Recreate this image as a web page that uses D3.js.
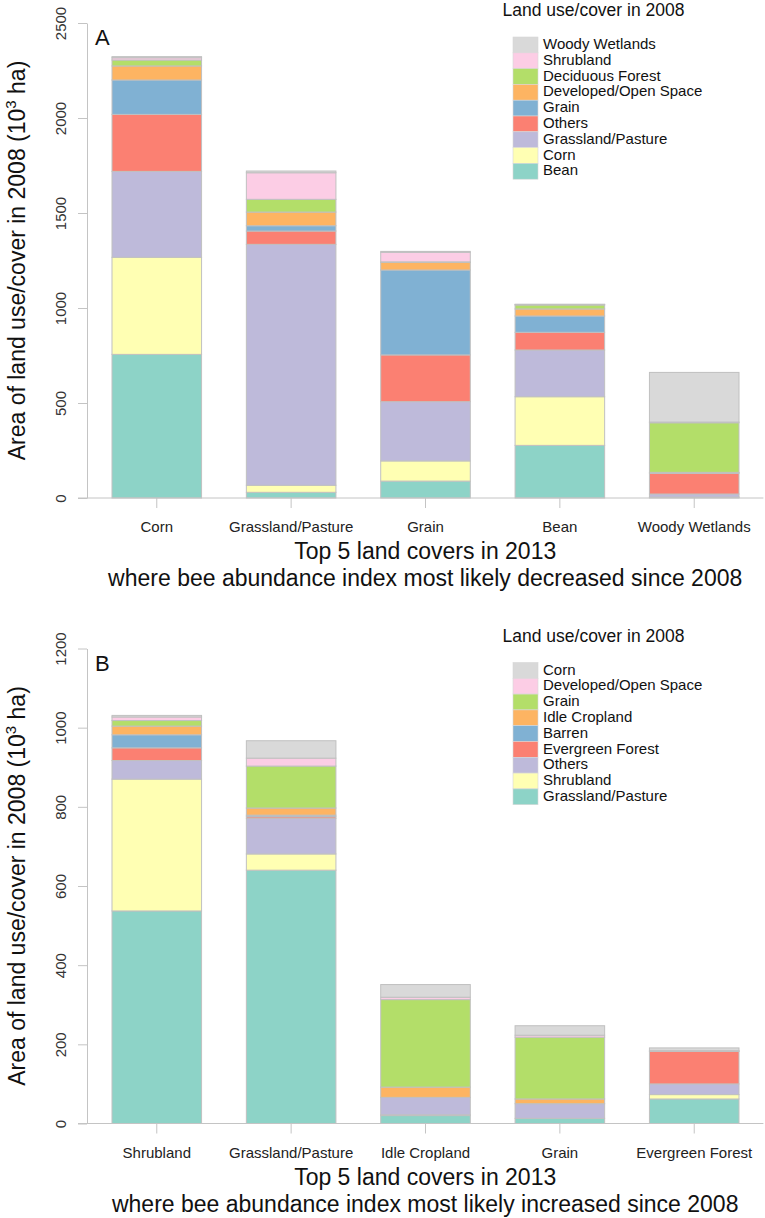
<!DOCTYPE html>
<html>
<head>
<meta charset="utf-8">
<script src="https://cdn.jsdelivr.net/npm/d3@7"></script>
<style>
  html, body { margin: 0; padding: 0; background: #fff; }
  svg { display: block; font-family: "Liberation Sans", Arial, Helvetica, sans-serif; }
</style>
</head>
<body>
<svg id="chart" width="765" height="1218"></svg>
<script>
// ---------- Panel A data ----------
const categoriesA = ["Corn", "Grassland/Pasture", "Grain", "Bean", "Woody Wetlands"];
const seriesA = ["Bean", "Corn", "Grassland/Pasture", "Others", "Grain",
                 "Developed/Open Space", "Deciduous Forest", "Shrubland", "Woody Wetlands"];
const beanA       = [756,   30,  89, 277,   3];
const cornA       = [511,   37, 106, 256,   2];
const grasslandA  = [452, 1268, 312, 246,  16];
const othersA     = [300,   70, 246,  93, 109];
const grainA      = [181,   28, 447,  86,   2];
const developedA  = [ 74,   72,  40,  37,   3];
const deciduousA  = [ 31,   67,   3,  21, 261];
const shrublandA  = [ 12,  140,  50,   2,   4];
const woodyA      = [  6,    9,   5,   2, 261];
const ticksA = [0, 500, 1000, 1500, 2000, 2500];

// ---------- Panel B data ----------
const categoriesB = ["Shrubland", "Grassland/Pasture", "Idle Cropland", "Grain", "Evergreen Forest"];
const seriesB = ["Grassland/Pasture", "Shrubland", "Others", "Evergreen Forest", "Barren",
                 "Idle Cropland", "Grain", "Developed/Open Space", "Corn"];
const grasslandB  = [537, 640,  20,  13, 62];
const shrublandB  = [333,  41,   2,   0, 11];
const othersB     = [ 47,  90,  44,  37, 27];
const evergreenB  = [ 32,   4,   0,   0, 82];
const barrenB     = [ 33,   4,   0,   0,  0];
const idleB       = [ 22,  18,  26,  12,  0];
const grainB      = [ 14, 106, 221, 156,  1];
const developedB  = [  9,  20,   6,   5,  1];
const cornB       = [  4,  44,  32,  24,  7];
const ticksB = [0, 200, 400, 600, 800, 1000, 1200];

const palette = ["#8DD3C7", "#FFFFB3", "#BEBADA", "#FB8072", "#80B1D3",
                 "#FDB462", "#B3DE69", "#FCCDE5", "#D9D9D9"];

const panels = [
  { label: "A", cats: categoriesA, series: seriesA,
    values: [beanA, cornA, grasslandA, othersA, grainA, developedA, deciduousA, shrublandA, woodyA],
    max: 2500, ticks: ticksA, offset: 0,
    sub: "where bee abundance index most likely decreased since 2008" },
  { label: "B", cats: categoriesB, series: seriesB,
    values: [grasslandB, shrublandB, othersB, evergreenB, barrenB, idleB, grainB, developedB, cornB],
    max: 1200, ticks: ticksB, offset: 625.5,
    sub: "where bee abundance index most likely increased since 2008" }
];

const svg = d3.select("#chart");
const axisColor = "#c4c4c4";
const borderColor = "#c0c0c0";

panels.forEach(p => {
  const g = svg.append("g").attr("transform", `translate(0,${p.offset})`);
  const yTop = 23, yBot = 498, xAxis = 87;

  const x = d3.scaleBand().domain(p.cats).range([89.6, 761.4])
    .paddingInner(1/3).paddingOuter(1/6);
  const y = d3.scaleLinear().domain([0, p.max]).range([yBot, yTop]);
  const color = d3.scaleOrdinal().domain(p.series).range(palette);

  const rows = p.cats.map((c, i) => {
    const r = { cat: c };
    p.series.forEach((s, j) => r[s] = p.values[j][i]);
    return r;
  });
  const stacked = d3.stack().keys(p.series)(rows);

  g.append("g").selectAll("g").data(stacked).join("g")
    .attr("fill", d => color(d.key))
    .selectAll("rect").data(d => d).join("rect")
    .attr("x", d => x(d.data.cat))
    .attr("width", x.bandwidth())
    .attr("y", d => y(d[1]))
    .attr("height", d => y(d[0]) - y(d[1]))
    .attr("stroke", borderColor)
    .attr("stroke-width", 1);

  // Y axis
  const ya = g.append("g").attr("transform", `translate(${xAxis},0)`)
    .call(d3.axisLeft(y).tickValues(p.ticks).tickSize(9).tickSizeOuter(0).tickFormat(d3.format("d")));
  ya.select(".domain").attr("stroke", axisColor);
  ya.selectAll(".tick line").attr("stroke", axisColor);
  ya.selectAll(".tick text")
    .attr("transform", "rotate(-90)")
    .attr("x", 0).attr("y", -21).attr("dy", 0)
    .attr("text-anchor", "middle")
    .attr("font-size", 15).attr("fill", "#333");

  // X axis
  const xa = g.append("g").attr("transform", `translate(0,${yBot})`)
    .call(d3.axisBottom(x).tickSize(10).tickSizeOuter(0));
  xa.select(".domain").remove();
  xa.append("line").attr("x1", xAxis - 9).attr("x2", x.range()[1] + 2)
    .attr("y1", 0).attr("y2", 0).attr("stroke", axisColor);
  xa.selectAll(".tick line").attr("stroke", axisColor);
  xa.selectAll(".tick text").attr("y", 34).attr("dy", 0)
    .attr("font-size", 15).attr("fill", "#222");

  // Panel letter
  g.append("text").attr("x", 95).attr("y", 45).attr("font-size", 22).attr("fill", "#111").text(p.label);

  // Axis titles
  const cx = (xAxis + x.range()[1] + 2) / 2;
  g.append("text").attr("x", cx).attr("y", 559).attr("text-anchor", "middle")
    .attr("font-size", 23).attr("fill", "#111").text("Top 5 land covers in 2013");
  g.append("text").attr("x", cx).attr("y", 586).attr("text-anchor", "middle")
    .attr("font-size", 23).attr("fill", "#111").text(p.sub);

  const yt = g.append("text")
    .attr("transform", `translate(25,${(yTop + yBot) / 2}) rotate(-90)`)
    .attr("text-anchor", "middle").attr("font-size", 23).attr("fill", "#111");
  yt.append("tspan").text("Area of land use/cover in 2008 (10");
  yt.append("tspan").attr("dy", -9).attr("font-size", 15).text("3");
  yt.append("tspan").attr("dy", 9).text(" ha)");

  // Legend
  const lg = g.append("g");
  lg.append("text").attr("x", 593.5).attr("y", 16).attr("text-anchor", "middle")
    .attr("font-size", 17.5).attr("fill", "#111").text("Land use/cover in 2008");
  const legendKeys = p.series.slice().reverse();
  const rowH = 15.8;
  const items = lg.selectAll("g.item").data(legendKeys).join("g").attr("class", "item")
    .attr("transform", (d, i) => `translate(513,${37 + i * rowH})`);
  items.append("rect").attr("width", 25).attr("height", rowH)
    .attr("fill", d => color(d)).attr("stroke", "#d8d8d8").attr("stroke-width", 0.6);
  items.append("text").attr("x", 30).attr("y", 12).attr("font-size", 15)
    .attr("fill", "#111").text(d => d);
});
</script>
</body>
</html>
